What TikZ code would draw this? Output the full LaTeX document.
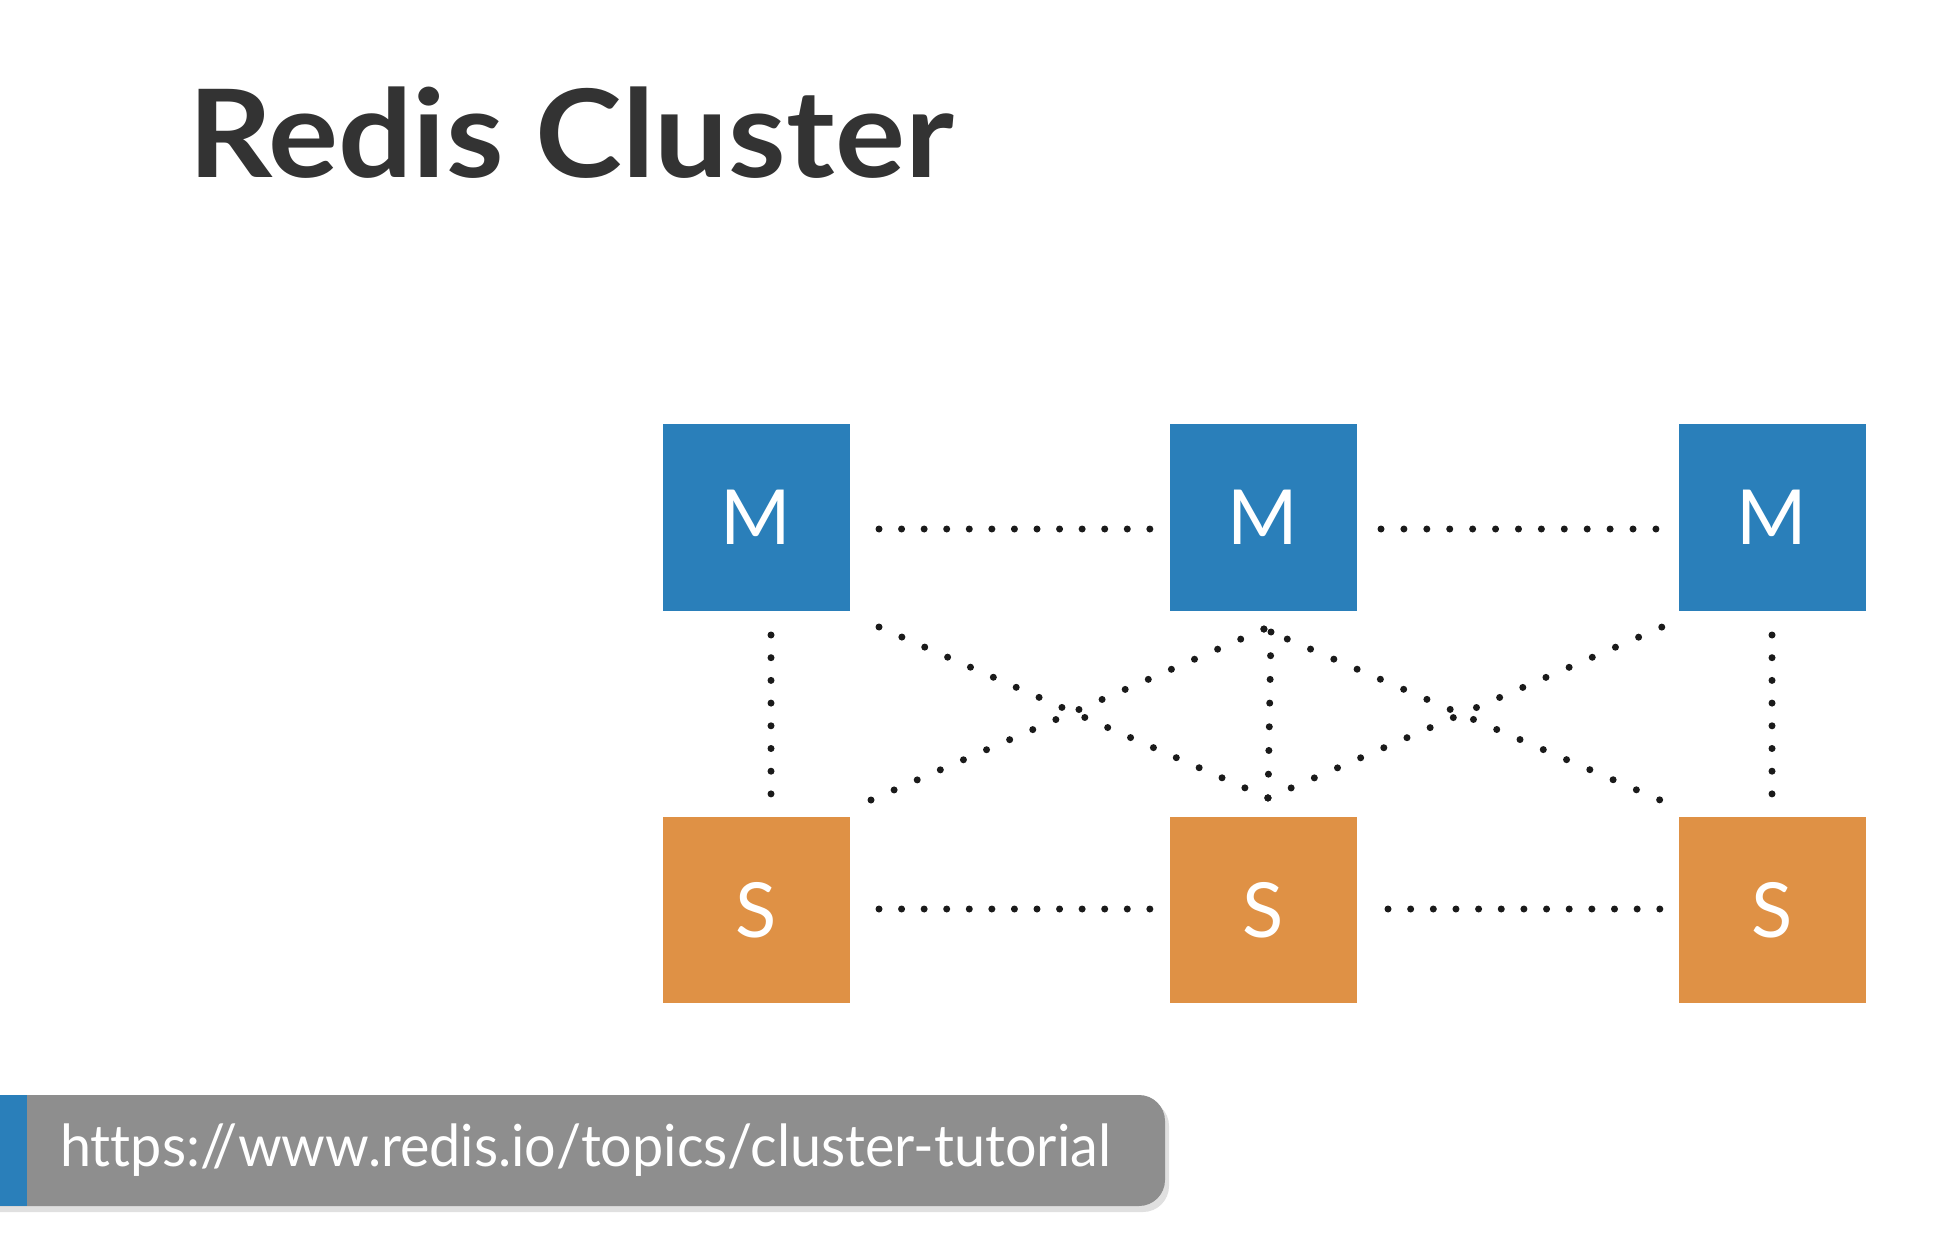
\documentclass[tikz,border=0pt]{standalone}
\usepackage{graphicx}
\usepackage{fontspec}
\setmainfont{Lato}
\definecolor{mblue}{HTML}{2A7FBA}
\definecolor{sorange}{HTML}{DF9145}
\definecolor{titlegray}{HTML}{333333}
\definecolor{bannergray}{HTML}{8E8E8E}
\definecolor{dotcol}{HTML}{1A1A1A}
\tikzset{
  nodebox/.style={minimum width=187pt, minimum height=186pt, inner sep=0pt, text=white, font=\fontsize{76}{76}\selectfont},
  master/.style={nodebox, fill=mblue},
  slave/.style={nodebox, fill=sorange},
  dotline/.style={draw=dotcol, line width=7pt, line cap=round, dash pattern=on 0pt off #1},
  dotline/.default=22.5pt,
}
\begin{document}
\begin{tikzpicture}[x=1pt,y=-1pt]
\useasboundingbox[fill=white] (0,0) rectangle (1960,1246);
% title
\node[anchor=base west, inner sep=0pt, text=titlegray, font=\bfseries\fontsize{122}{122}\selectfont] (title) at (188,178) {\scalebox{1.075}[1]{Redis Cluster}};
% boxes
\node[master] (M1) at (756,517.5) {M};
\node[master] (M2) at (1263,517.5) {M};
\node[master] (M3) at (1772,517.5) {M};
\node[slave] (S1) at (756,910) {S};
\node[slave] (S2) at (1263,910) {S};
\node[slave] (S3) at (1772,910) {S};
% connector end points
\coordinate (h1a) at (879,529); \coordinate (h1b) at (1150,529);
\coordinate (h2a) at (1381,529); \coordinate (h2b) at (1656,529);
\coordinate (h3a) at (879,909); \coordinate (h3b) at (1150,909);
\coordinate (h4a) at (1388,909); \coordinate (h4b) at (1660,909);
\coordinate (v1a) at (771,635); \coordinate (v1b) at (771,794);
\coordinate (v3a) at (1772,635); \coordinate (v3b) at (1772,794);
\coordinate (top) at (1264,629); \coordinate (bot) at (1268,798);
\coordinate (vt) at (1271,632);
\coordinate (d1a) at (879,627); \coordinate (d2a) at (871,800);
\coordinate (d3b) at (1660,800); \coordinate (d4b) at (1662,627);
% connectors
\draw[dotline=22.57pt] (h1a) -- (h1b);
\draw[dotline=22.91pt] (h2a) -- (h2b);
\draw[dotline=22.57pt] (h3a) -- (h3b);
\draw[dotline=22.65pt] (h4a) -- (h4b);
\draw[dotline=22.7pt] (v1a) -- (v1b);
\draw[dotline=22.7pt] (v3a) -- (v3b);
\draw[dotline=23.7pt] (vt) -- (bot);
\draw[dotline=24.98pt] (d1a) -- (bot);
\draw[dotline=25.2pt] (d2a) -- (top);
\draw[dotline=25.35pt] (top) -- (d3b);
\draw[dotline=25.25pt] (bot) -- (d4b);
% banner
\fill[black!12] (0,1100) -- (1143,1100) arc[start angle=-90, end angle=0, radius=26] -- (1169,1186) arc[start angle=0, end angle=90, radius=26] -- (0,1212) -- cycle;
\fill[bannergray] (0,1095) -- (1139,1095) arc[start angle=-90, end angle=0, radius=26] -- (1165,1180) arc[start angle=0, end angle=90, radius=26] -- (0,1206) -- cycle;
\fill[mblue] (0,1095) rectangle (27,1206);
\node[anchor=base west, inner sep=0pt, text=white, font=\fontsize{58}{58}\selectfont\addfontfeatures{Ligatures=NoCommon}] (url) at (60,1166) {\scalebox{0.96}[1]{https://www.redis.io/topics/cluster-tutorial}};
\end{tikzpicture}
\end{document}
